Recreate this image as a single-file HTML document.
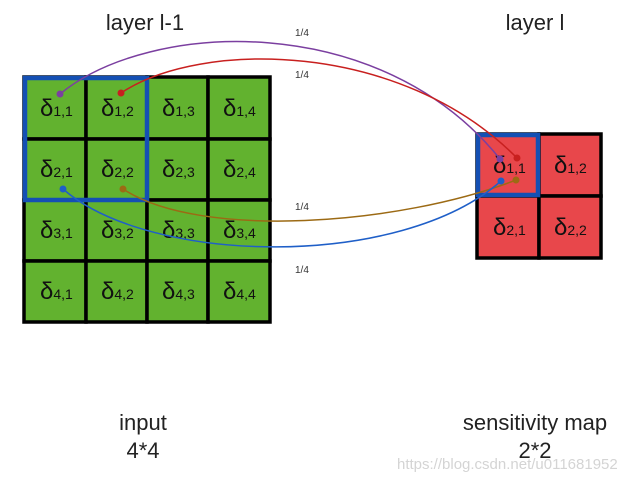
<!DOCTYPE html>
<html><head><style>body{margin:0;background:#fff}svg{display:block}</style></head><body>
<svg width="640" height="480" xmlns="http://www.w3.org/2000/svg" font-family="Liberation Sans, sans-serif">
<rect width="640" height="480" fill="#fff"/>
<text x="145" y="30" font-size="22" text-anchor="middle" fill="#222">layer l-1</text>
<text x="535" y="30" font-size="22" text-anchor="middle" fill="#222">layer l</text>
<g fill="#62b22f" stroke="#000" stroke-width="3.5">
<rect x="24" y="77" width="62" height="62"/><rect x="86" y="77" width="61" height="62"/><rect x="147" y="77" width="61" height="62"/><rect x="208" y="77" width="62" height="62"/>
<rect x="24" y="139" width="62" height="61"/><rect x="86" y="139" width="61" height="61"/><rect x="147" y="139" width="61" height="61"/><rect x="208" y="139" width="62" height="61"/>
<rect x="24" y="200" width="62" height="61"/><rect x="86" y="200" width="61" height="61"/><rect x="147" y="200" width="61" height="61"/><rect x="208" y="200" width="62" height="61"/>
<rect x="24" y="261" width="62" height="61"/><rect x="86" y="261" width="61" height="61"/><rect x="147" y="261" width="61" height="61"/><rect x="208" y="261" width="62" height="61"/>
</g>
<g fill="#e8474b" stroke="#000" stroke-width="3.5">
<rect x="477" y="134" width="62" height="62"/><rect x="539" y="134" width="62" height="62"/>
<rect x="477" y="196" width="62" height="62"/><rect x="539" y="196" width="62" height="62"/>
</g>
<g font-size="24" fill="#111">
<text x="40" y="116">δ<tspan font-size="14">1,1</tspan></text><text x="101" y="116">δ<tspan font-size="14">1,2</tspan></text><text x="162" y="116">δ<tspan font-size="14">1,3</tspan></text><text x="223" y="116">δ<tspan font-size="14">1,4</tspan></text>
<text x="40" y="177">δ<tspan font-size="14">2,1</tspan></text><text x="101" y="177">δ<tspan font-size="14">2,2</tspan></text><text x="162" y="177">δ<tspan font-size="14">2,3</tspan></text><text x="223" y="177">δ<tspan font-size="14">2,4</tspan></text>
<text x="40" y="238">δ<tspan font-size="14">3,1</tspan></text><text x="101" y="238">δ<tspan font-size="14">3,2</tspan></text><text x="162" y="238">δ<tspan font-size="14">3,3</tspan></text><text x="223" y="238">δ<tspan font-size="14">3,4</tspan></text>
<text x="40" y="299">δ<tspan font-size="14">4,1</tspan></text><text x="101" y="299">δ<tspan font-size="14">4,2</tspan></text><text x="162" y="299">δ<tspan font-size="14">4,3</tspan></text><text x="223" y="299">δ<tspan font-size="14">4,4</tspan></text>
<text x="493" y="173">δ<tspan font-size="14">1,1</tspan></text><text x="554" y="173">δ<tspan font-size="14">1,2</tspan></text>
<text x="493" y="235">δ<tspan font-size="14">2,1</tspan></text><text x="554" y="235">δ<tspan font-size="14">2,2</tspan></text>
</g>
<rect x="25" y="78" width="122" height="122" fill="none" stroke="#1450b4" stroke-width="4.5"/>
<rect x="478" y="135" width="60" height="60" fill="none" stroke="#1450b4" stroke-width="4.5"/>
<g fill="none" stroke-width="1.5">
<path d="M60,94 C150,20 380,10 500,159" stroke="#7b3fa0"/>
<path d="M121,93 C200,40 400,40 517,158" stroke="#c8201f"/>
<path d="M123,189 C200,240 400,225 516,180" stroke="#9c6a14"/>
<path d="M63,189 C150,265 400,270 501,181" stroke="#1f5fc8"/>
</g>
<circle cx="60" cy="94" r="3.5" fill="#7b3fa0"/><circle cx="121" cy="93" r="3.5" fill="#c8201f"/>
<circle cx="123" cy="189" r="3.5" fill="#9c6a14"/><circle cx="63" cy="189" r="3.5" fill="#1f5fc8"/>
<circle cx="500" cy="159" r="3.5" fill="#7b3fa0"/><circle cx="517" cy="158" r="3.5" fill="#c8201f"/>
<circle cx="516" cy="180" r="3.5" fill="#9c6a14"/><circle cx="501" cy="181" r="3.5" fill="#1f5fc8"/>
<g font-size="10" fill="#333">
<text x="295" y="36">1/4</text><text x="295" y="78">1/4</text><text x="295" y="210">1/4</text><text x="295" y="273">1/4</text>
</g>
<text x="143" y="430" font-size="22" text-anchor="middle" fill="#222">input</text>
<text x="143" y="458" font-size="22" text-anchor="middle" fill="#222">4*4</text>
<text x="535" y="430" font-size="22" text-anchor="middle" fill="#222">sensitivity map</text>
<text x="535" y="458" font-size="22" text-anchor="middle" fill="#222">2*2</text>
<text x="397" y="469" font-size="15" fill="#d4d4d4">https://blog.csdn.net/u011681952</text>
</svg>
</body></html>
